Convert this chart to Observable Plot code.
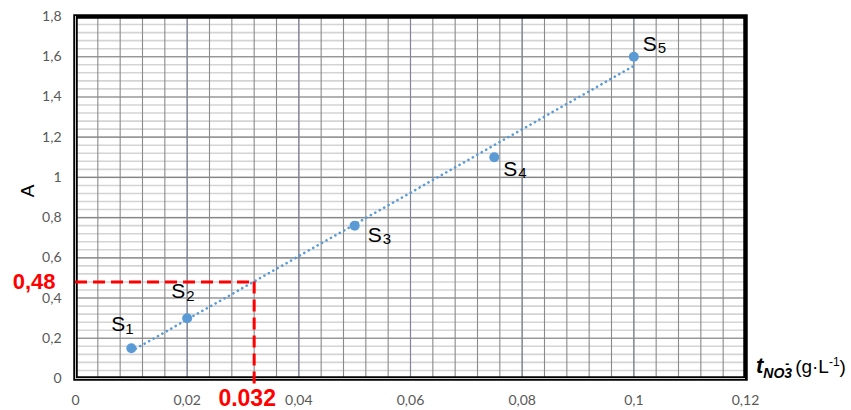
<!DOCTYPE html>
<html>
<head>
<meta charset="utf-8">
<script src="https://cdn.jsdelivr.net/npm/d3@7"></script>
<script src="https://cdn.jsdelivr.net/npm/@observablehq/plot@0.6"></script>
<style>
  body { margin: 0; background: #fff; }
</style>
</head>
<body>
<div id="chart"></div>
<script>
// ---- data ----
const sampleNames = ["1", "2", "3", "4", "5"];
const concentrations = [0.01, 0.02, 0.05, 0.075, 0.1];
const absorbances = [0.15, 0.30, 0.76, 1.10, 1.60];

const xTicks = [0, 0.02, 0.04, 0.06, 0.08, 0.1, 0.12];
const xTickLabels = ["0", "0,02", "0,04", "0,06", "0,08", "0,1", "0,12"];
const yTicks = [0, 0.2, 0.4, 0.6, 0.8, 1, 1.2, 1.4, 1.6, 1.8];
const yTickLabels = ["0", "0,2", "0,4", "0,6", "0,8", "1", "1,2", "1,4", "1,6", "1,8"];

const readX = 0.032;
const readY = 0.48;
const readXLabel = "0.032";
const readYLabel = "0,48";

// label placement (pixel offsets from each point): [S dx, S dy, digit dx, digit dy]
const labelOffsets = [
  [-20, -17, -6, -14],
  [-16, -20, -1, -17],
  [13, 16, 28, 18],
  [9, 19, 24, 21],
  [9, -6, 24, -4]
];

const points = concentrations.map((x, i) => ({x, y: absorbances[i], name: sampleNames[i], i}));
const xMinor = d3.range(0, 30).map(k => k * 0.004).filter(v => v > 0.001 && v < 0.119);
const yMinor = d3.range(0, 45).map(k => k * 0.04).filter(v => v > 0.01 && v < 1.79);
const xMajorInner = xTicks.filter(v => v > 0 && v < 0.12);
const yMajorInner = yTicks.filter(v => v > 0 && v < 1.8);

const font = "Liberation Sans, Arial, sans-serif";
const labelMarks = [];
points.forEach((p, i) => {
  const o = labelOffsets[i];
  labelMarks.push(Plot.text([p], {x: "x", y: "y", text: () => "S", dx: o[0], dy: o[1],
    textAnchor: "start", lineAnchor: "bottom", fontSize: 21, fontFamily: font, fill: "#000"}));
  labelMarks.push(Plot.text([p], {x: "x", y: "y", text: "name", dx: o[2], dy: o[3],
    textAnchor: "start", lineAnchor: "bottom", fontSize: 15, fontFamily: font, fill: "#000"}));
});

const red = "#ff0000";

const plot = Plot.plot({
  width: 851,
  height: 410,
  marginLeft: 75,
  marginRight: 106,
  marginTop: 16,
  marginBottom: 32,
  style: {fontFamily: "Lato, sans-serif", fontSize: "14px", color: "#595959", background: "#fff", overflow: "visible"},
  x: {domain: [0, 0.12], ticks: xTicks, tickFormat: d => xTickLabels[xTicks.indexOf(d)], tickSize: 0, tickPadding: 17, label: null},
  y: {domain: [0, 1.8], ticks: yTicks, tickFormat: d => yTickLabels[yTicks.indexOf(d)], tickSize: 0, tickPadding: 14, label: null},
  marks: [
    Plot.ruleY(yMinor, {stroke: "#d4d4d4", strokeWidth: 1.6}),
    Plot.ruleY(yMajorInner, {stroke: "#858585", strokeWidth: 1.1}),
    Plot.ruleX(xMinor, {stroke: "#8a8a8a", strokeWidth: 1.1}),
    Plot.ruleX(xMajorInner, {stroke: "#808898", strokeWidth: 1.1}),
    Plot.frame({stroke: "#000", strokeWidth: 4.5}),
    Plot.ruleX([0], {stroke: "#c8c8c8", strokeWidth: 1}),
    Plot.ruleY([0], {stroke: "#c8c8c8", strokeWidth: 1}),
    Plot.linearRegressionY(points, {x: "x", y: "y", ci: 0, stroke: "#5b9bd5", strokeWidth: 2.6, strokeLinecap: "round", strokeDasharray: "0.1,5"}),
    Plot.ruleY([readY], {x1: 0, x2: readX, stroke: red, strokeWidth: 3, strokeDasharray: "12,6"}),
    Plot.ruleX([readX], {y1: readY, y2: 0, insetBottom: -8, stroke: red, strokeWidth: 3, strokeDasharray: "12,6"}),
    Plot.dot(points, {x: "x", y: "y", r: 5, fill: "#5b9bd5", stroke: "none"}),
    ...labelMarks,
    Plot.text([{x: 0, y: readY}], {x: "x", y: "y", text: () => readYLabel, textAnchor: "end", dx: -20, dy: 0,
      fontSize: 22, fontWeight: "bold", fill: red, fontFamily: font}),
    Plot.text([{x: readX, y: 0}], {x: "x", y: "y", text: () => readXLabel, textAnchor: "middle", dx: -7, dy: 20,
      fontSize: 23, fontWeight: "bold", fill: red, fontFamily: font})
  ]
});

document.getElementById("chart").appendChild(plot);

// axis titles (real text)
const svg = d3.select(plot);
const sx = plot.scale("x"), sy = plot.scale("y");
const xl = svg.append("text")
  .attr("x", sx.apply(0.12) + 11)
  .attr("y", sy.apply(0) - 5)
  .attr("text-anchor", "start")
  .attr("fill", "#000")
  .attr("font-family", font)
  .style("font-size", "18px");
xl.append("tspan").style("font-size", "22px").attr("font-weight", "bold").attr("font-style", "italic").text("t");
xl.append("tspan").style("font-size", "14px").attr("font-weight", "bold").attr("font-style", "italic").attr("dy", 5).text("NO");
xl.append("tspan").style("font-size", "14px").attr("font-weight", "bold").attr("font-style", "italic").text("3");
xl.append("tspan").style("font-size", "12px").attr("font-weight", "bold").attr("dx", -7).attr("dy", -10).text("-");
xl.append("tspan").style("font-size", "19px").attr("dx", 6).attr("dy", 5).text("(g·L");
xl.append("tspan").style("font-size", "12px").attr("dy", -7).text("-1");
xl.append("tspan").style("font-size", "19px").attr("dy", 7).text(")");

svg.append("text")
  .attr("transform", `translate(34, ${sy.apply(0.93)}) rotate(-90)`)
  .attr("text-anchor", "middle")
  .attr("fill", "#000")
  .attr("font-family", font)
  .style("font-size", "19px")
  .text("A");
</script>
</body>
</html>
